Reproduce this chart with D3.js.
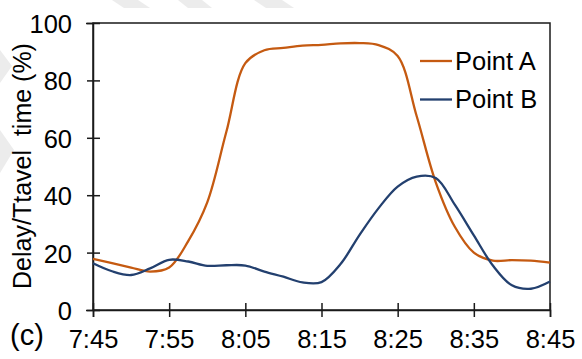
<!DOCTYPE html>
<html>
<head>
<meta charset="utf-8">
<script src="https://cdn.jsdelivr.net/npm/d3@7"></script>
<style>
  html, body { margin: 0; padding: 0; background: #fff; }
  svg { display: block; }
  text { font-family: "Liberation Sans", Arial, sans-serif; fill: #000; }
</style>
</head>
<body>
<svg id="chart" width="582" height="359"></svg>
<script>
// ---- data ----
const times = ["7:45:00","7:47:30","7:50:00","7:52:30","7:55:00","7:57:30","8:00:00","8:02:30",
               "8:05:00","8:07:30","8:10:00","8:12:30","8:15:00","8:17:30","8:20:00","8:22:30",
               "8:25:00","8:27:30","8:30:00","8:32:30","8:35:00","8:37:30","8:40:00","8:42:30","8:45:00"];
const pointA = [17.8, 16.3, 14.8, 13.4, 14.8, 24.0, 37.5, 62.0,
                86.0, 90.5, 91.3, 92.1, 92.4, 92.9, 93.0, 92.3,
                88.5, 67.5, 44.5, 29.0, 20.0, 17.2, 17.4, 17.2, 16.5];
const pointB = [16.3, 13.5, 12.2, 14.5, 17.5, 16.9, 15.4, 15.6,
                15.5, 13.4, 11.6, 9.6, 9.7, 16.0, 26.2, 35.5,
                43.0, 46.5, 46.0, 36.7, 26.0, 15.5, 8.6, 7.4, 9.9];
const seriesNames = ["Point A", "Point B"];
const seriesColors = ["#C55A11", "#23406F"];
const xTickLabels = ["7:45","7:55","8:05","8:15","8:25","8:35","8:45"];
const yTicks = [0, 20, 40, 60, 80, 100];
const yTitle = "Delay/Ttavel  time (%)";
const panelLabel = "(c)";

// ---- layout ----
const W = 582, H = 359;
const L = 93, R = 550, T = 23, B = 310;
const FS = 25.5;
const parse = d3.timeParse("%H:%M:%S");
const parseTick = d3.timeParse("%H:%M");
const svg = d3.select("#chart");

// faint watermark stripes in background
const wm = svg.append("g").attr("fill", "#ececec");
[[112,0,138,0,150,8,124,8],[178,0,202,0,212,8,188,8],[254,0,282,0,294,8,266,8]]
  .forEach(p => wm.append("polygon").attr("points", [[p[0],p[1]],[p[2],p[3]],[p[4],p[5]],[p[6],p[7]]].join(" ")));
[[0,50,12,66,0,83],[0,130,14,150,0,173]]
  .forEach(p => wm.append("polygon").attr("points", [[p[0],p[1]],[p[2],p[3]],[p[4],p[5]]].join(" ")));

const x = d3.scaleTime().domain([parseTick("7:45"), parseTick("8:45")]).range([L, R]);
const y = d3.scaleLinear().domain([0, 100]).range([B, T]);

// plot frame (white area)
svg.append("rect").attr("x", L).attr("y", T).attr("width", R - L).attr("height", B - T)
  .attr("fill", "#fff").attr("stroke", "#1a1a1a").attr("stroke-width", 1.5);

// y axis
const yAxis = svg.append("g").attr("transform", `translate(${L},0)`)
  .call(d3.axisLeft(y).tickValues(yTicks).tickSize(7));
yAxis.select(".domain").attr("stroke", "#1a1a1a").attr("stroke-width", 1.5);
yAxis.selectAll(".tick line").attr("stroke", "#1a1a1a").attr("stroke-width", 1.5).attr("x2", 7).attr("x1", -6);
yAxis.selectAll(".tick text").attr("font-size", FS).attr("font-family", "Liberation Sans, Arial, sans-serif")
  .attr("x", -21).attr("dy", "0.37em");

// x axis
const xAxis = svg.append("g").attr("transform", `translate(0,${B})`)
  .call(d3.axisBottom(x).tickValues(xTickLabels.map(parseTick)).tickFormat((d, i) => xTickLabels[i]).tickSize(7));
xAxis.select(".domain").attr("stroke", "#1a1a1a").attr("stroke-width", 1.5);
xAxis.selectAll(".tick line").attr("stroke", "#1a1a1a").attr("stroke-width", 1.5).attr("y1", -7).attr("y2", 7);
xAxis.selectAll(".tick text").attr("font-size", FS).attr("font-family", "Liberation Sans, Arial, sans-serif")
  .attr("y", 38).attr("dy", 0);

// lines
const line = d3.line().x((d, i) => x(parse(times[i]))).y(d => y(d)).curve(d3.curveCatmullRom.alpha(0.5));
[pointA, pointB].forEach((s, k) => {
  svg.append("path").datum(s).attr("d", line).attr("fill", "none")
    .attr("stroke", seriesColors[k]).attr("stroke-width", 2.3).attr("stroke-linejoin", "round");
});

// legend
const leg = svg.append("g");
seriesNames.forEach((n, k) => {
  const ly = 61 + k * 38.5;
  leg.append("line").attr("x1", 420).attr("x2", 452).attr("y1", ly).attr("y2", ly)
    .attr("stroke", seriesColors[k]).attr("stroke-width", 2.3);
  leg.append("text").attr("x", 455).attr("y", ly + 8.5).attr("font-size", FS).text(n);
});

// y title
svg.append("text").attr("transform", "translate(31,166) rotate(-90)")
  .attr("text-anchor", "middle").attr("font-size", 25).style("white-space", "pre").text(yTitle);

// panel label
svg.append("text").attr("x", 10).attr("y", 345).attr("font-size", 29).text(panelLabel);
</script>
</body>
</html>
